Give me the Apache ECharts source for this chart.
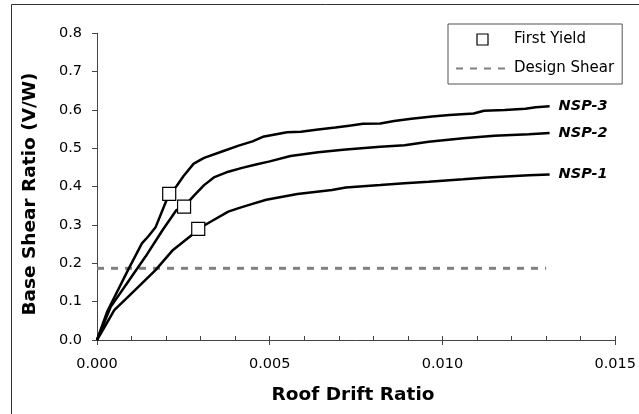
<!DOCTYPE html>
<html>
<head>
<meta charset="utf-8">
<script src="https://cdn.jsdelivr.net/npm/echarts@6/dist/echarts.min.js"></script>
<style>
  html, body { margin: 0; padding: 0; background: #fff; }
  #chart { width: 639px; height: 414px; }
</style>
</head>
<body>
<div id="chart"></div>
<script>
// Pushover curves: base shear ratio (V/W) against roof drift ratio
const nsp1 = [
  [0, 0], [0.0005, 0.078], [0.0011, 0.130], [0.0017, 0.183], [0.0022, 0.235],
  [0.0028, 0.278], [0.00293, 0.290], [0.0033, 0.309], [0.0038, 0.335], [0.0041, 0.344],
  [0.0045, 0.355], [0.0049, 0.366], [0.0058, 0.381], [0.0063, 0.386], [0.0068, 0.391],
  [0.0072, 0.398], [0.0082, 0.404], [0.0089, 0.409], [0.0096, 0.413], [0.0106, 0.419],
  [0.0113, 0.424], [0.0125, 0.430], [0.0131, 0.432]
];
const nsp2 = [
  [0, 0], [0.0004, 0.087], [0.0009, 0.152], [0.0014, 0.217], [0.0019, 0.287],
  [0.0023, 0.339], [0.00252, 0.348], [0.0028, 0.376], [0.0031, 0.404], [0.0034, 0.425],
  [0.0038, 0.439], [0.0042, 0.449], [0.0046, 0.458], [0.0050, 0.466], [0.0056, 0.480],
  [0.0064, 0.490], [0.0072, 0.497], [0.0082, 0.504], [0.0089, 0.508], [0.0096, 0.517],
  [0.0106, 0.526], [0.0115, 0.533], [0.0125, 0.537], [0.0131, 0.540]
];
const nsp3 = [
  [0, 0], [0.0003, 0.075], [0.0009, 0.183], [0.0013, 0.252], [0.0015, 0.272],
  [0.0017, 0.295], [0.0020, 0.362], [0.0021, 0.381], [0.0023, 0.401], [0.0025, 0.427],
  [0.0028, 0.460], [0.0031, 0.475], [0.0036, 0.491], [0.0041, 0.507], [0.0045, 0.518],
  [0.0048, 0.530], [0.0055, 0.542], [0.0059, 0.543], [0.0064, 0.549], [0.0069, 0.554],
  [0.0073, 0.559], [0.0077, 0.564], [0.0082, 0.565], [0.0086, 0.571], [0.0091, 0.577],
  [0.0097, 0.583], [0.0102, 0.587], [0.0109, 0.591], [0.0112, 0.598], [0.0118, 0.600],
  [0.0124, 0.603], [0.0127, 0.607], [0.0131, 0.610]
];
const firstYield = [[0.00209, 0.381], [0.00252, 0.348], [0.00293, 0.290]];
const designShear = [[0, 0.187], [0.013, 0.187]];

const xTicks = { min: 0, max: 0.015, major: 0.005, minor: 0.001 };
const yTicks = { min: 0, max: 0.8, step: 0.1 };

const FONT = 'DejaVu Sans';
const AXIS_COLOR = '#444';
const SQUARE_ICON = 'path://M0,0L10,0L10,10L0,10Z';

const chart = echarts.init(document.getElementById('chart'), null, { renderer: 'canvas' });

function curve(name, data) {
  return {
    name: name,
    type: 'line',
    data: data,
    symbol: 'none',
    smooth: false,
    lineStyle: { color: '#000', width: 2.5 },
    endLabel: {
      show: true,
      formatter: '{a}',
      distance: 9,
      color: '#000',
      fontFamily: FONT,
      fontSize: 14.5,
      fontWeight: 'bold',
      fontStyle: 'italic'
    },
    z: 3
  };
}

chart.setOption({
  animation: false,
  backgroundColor: '#fff',
  grid: { left: 97, right: 17, top: 33.3, bottom: 74, containLabel: false },
  legend: {
    orient: 'vertical',
    left: 448,
    top: 24,
    padding: [8, 8, 8, 7],
    itemWidth: 53,
    itemHeight: 11,
    itemGap: 14,
    symbolKeepAspect: true,
    borderColor: '#555',
    borderWidth: 1,
    textStyle: { fontFamily: FONT, fontSize: 15, color: '#000' },
    data: [
      {
        name: 'First Yield',
        icon: SQUARE_ICON,
        itemStyle: { color: '#fff', borderColor: '#000', borderWidth: 1.2, opacity: 1 }
      },
      {
        name: 'Design Shear',
        itemStyle: { opacity: 0 }
      }
    ]
  },
  xAxis: [
    {
      type: 'value',
      position: 'bottom',
      min: xTicks.min,
      max: xTicks.max,
      interval: xTicks.major,
      splitLine: { show: false },
      axisLine: { show: true, onZero: false, lineStyle: { color: AXIS_COLOR, width: 1 } },
      axisTick: { show: true, inside: false, length: 5, lineStyle: { color: AXIS_COLOR } },
      axisLabel: {
        margin: 17,
        color: '#000',
        fontFamily: FONT,
        fontSize: 14.5,
        formatter: v => v.toFixed(3),
        showMaxLabel: true
      }
    },
    {
      type: 'value',
      position: 'bottom',
      offset: 0,
      min: xTicks.min,
      max: xTicks.max,
      interval: xTicks.minor,
      splitLine: { show: false },
      axisLine: { show: false },
      axisTick: { show: true, inside: true, length: 4, lineStyle: { color: AXIS_COLOR } },
      axisLabel: { show: false }
    }
  ],
  yAxis: {
    type: 'value',
    min: yTicks.min,
    max: yTicks.max,
    interval: yTicks.step,
    splitLine: { show: false },
    axisLine: { show: true, onZero: false, lineStyle: { color: AXIS_COLOR, width: 1 } },
    axisTick: { show: true, inside: false, length: 5, lineStyle: { color: AXIS_COLOR } },
    axisLabel: {
      margin: 15,
      color: '#000',
      fontFamily: FONT,
      fontSize: 14.5,
      formatter: v => v.toFixed(1)
    }
  },
  graphic: [
    {
      type: 'rect',
      silent: true,
      shape: { x: 11.5, y: 4.5, width: 800, height: 600 },
      style: { fill: 'none', stroke: '#333', lineWidth: 1 },
      z: -1
    },
    {
      type: 'text',
      x: 353,
      y: 395,
      style: {
        text: 'Roof Drift Ratio',
        font: 'bold 18.5px "DejaVu Sans"',
        fill: '#000',
        textAlign: 'center',
        textVerticalAlign: 'middle'
      }
    },
    {
      type: 'text',
      x: 30,
      y: 194,
      rotation: Math.PI / 2,
      style: {
        text: 'Base Shear Ratio (V/W)',
        font: 'bold 18.5px "DejaVu Sans"',
        fill: '#000',
        textAlign: 'center',
        textVerticalAlign: 'middle'
      }
    }
  ],
  series: [
    {
      name: 'Design Shear',
      type: 'line',
      data: designShear,
      symbol: 'none',
      itemStyle: { color: '#808080' },
      lineStyle: { color: '#808080', width: 3, type: [7, 7] },
      z: 1
    },
    curve('NSP-1', nsp1),
    curve('NSP-2', nsp2),
    curve('NSP-3', nsp3),
    {
      name: 'First Yield',
      type: 'scatter',
      data: firstYield,
      symbol: 'rect',
      symbolSize: 13,
      itemStyle: { color: '#fff', borderColor: '#000', borderWidth: 1.2, opacity: 1 },
      z: 5
    }
  ]
});
</script>
</body>
</html>
